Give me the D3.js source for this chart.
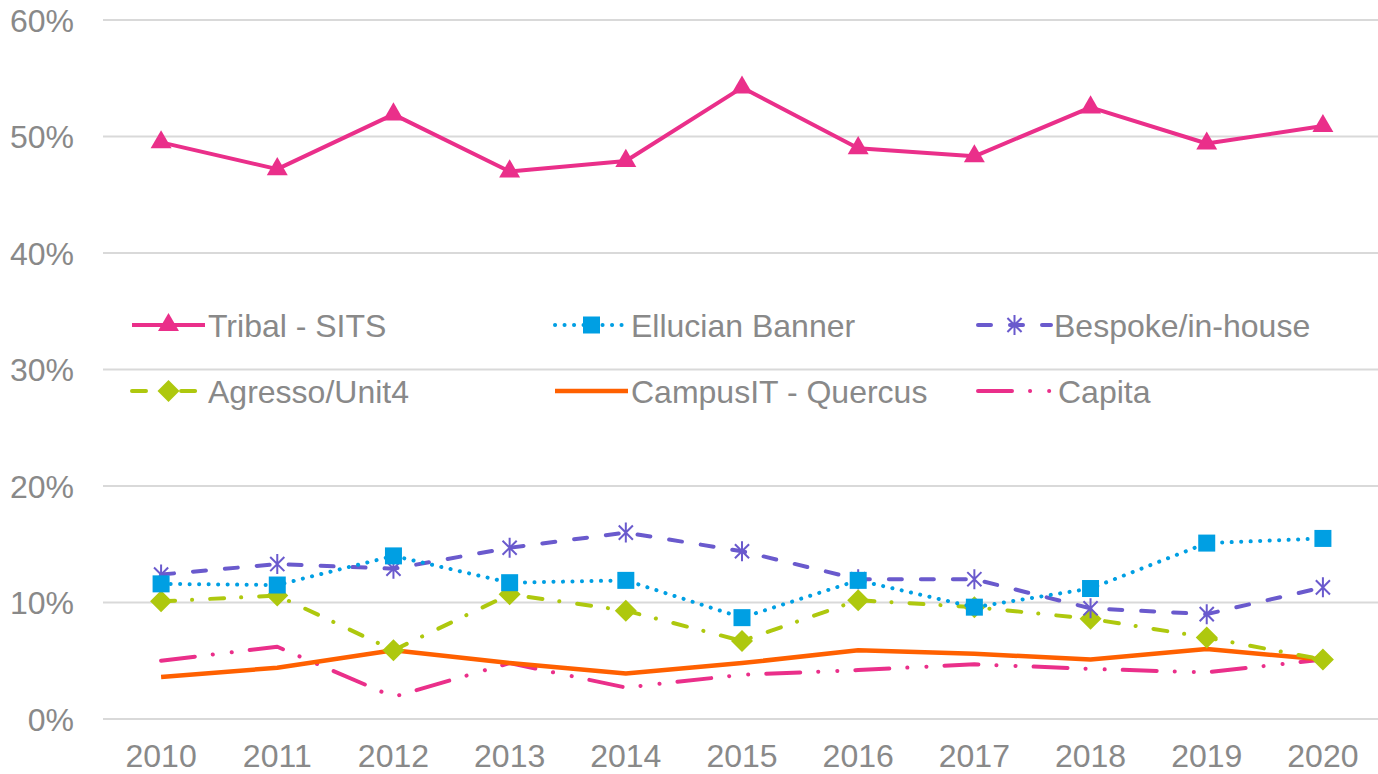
<!DOCTYPE html>
<html><head><meta charset="utf-8">
<script src="https://cdn.jsdelivr.net/npm/d3@7/dist/d3.min.js"></script>
<style>
html,body{margin:0;padding:0;background:#fff;}
svg{display:block;font-family:"Liberation Sans",Arial,sans-serif;}
</style></head>
<body>
<svg id="chart" width="1378" height="774"></svg>
<script>
const years = ["2010","2011","2012","2013","2014","2015","2016","2017","2018","2019","2020"];
const yTicks = [0,10,20,30,40,50,60];
const tribal    = [49.5,47.2,51.9,47.0,47.9,54.2,49.0,48.3,52.5,49.4,50.9];
const ellucian  = [11.6,11.5,14.0,11.7,11.9,8.7,11.9,9.6,11.2,15.1,15.5];
const bespoke   = [12.4,13.3,12.9,14.7,16.0,14.4,12.0,12.0,9.5,9.0,11.3];
const agresso   = [10.1,10.6,5.9,10.7,9.3,6.7,10.2,9.6,8.6,7.0,5.1];
const campusit  = [3.6,4.4,5.9,4.8,3.9,4.8,5.9,5.6,5.1,6.0,5.1];
const capita    = [5.0,6.2,1.9,4.8,2.7,3.8,4.2,4.7,4.3,4.0,5.1];
const seriesNames = ["Tribal - SITS","Ellucian Banner","Bespoke/in-house","Agresso/Unit4","CampusIT - Quercus","Capita"];

(function(){
const series = [
  {name:seriesNames[0], values:tribal,   color:"#EA2F8A", dash:null,                 marker:"triangle", width:4},
  {name:seriesNames[1], values:ellucian, color:"#009FE3", dash:"0.1 9.4",            marker:"square",   width:4},
  {name:seriesNames[2], values:bespoke,  color:"#6A5ACD", dash:"13 19",              marker:"asterisk", width:4},
  {name:seriesNames[3], values:agresso,  color:"#AEC80E", dash:"14 17 0.1 18",       marker:"diamond",  width:4},
  {name:seriesNames[4], values:campusit, color:"#FF6000", dash:null,                 marker:null,       width:4.5},
  {name:seriesNames[5], values:capita,   color:"#EA2F8A", dash:"34 18 0.1 19 0.1 18",marker:null,       width:4}
];

const svg = d3.select("#chart");
const pLeft = 103, pRight = 1381, pTop = 20, pBottom = 719;
const x = d3.scaleBand().domain(years).range([pLeft, pRight]);
const y = d3.scaleLinear().domain([0,60]).range([pBottom, pTop]);
const textColor = "#898989";
const fs = 32;

svg.append("g").selectAll("line").data(yTicks).join("line")
  .attr("x1", pLeft).attr("x2", 1378)
  .attr("y1", d => y(d)).attr("y2", d => y(d))
  .attr("stroke", "#d9d9d9").attr("stroke-width", 2);

svg.append("g").selectAll("text").data(yTicks).join("text")
  .attr("x", 74).attr("y", d => y(d)).attr("dy", "0.36em")
  .attr("text-anchor", "end").attr("font-size", fs).attr("fill", textColor)
  .text(d => d + "%");

svg.append("g").selectAll("text").data(years).join("text")
  .attr("x", d => x(d) + x.bandwidth()/2).attr("y", 755).attr("dy", "0.36em")
  .attr("text-anchor", "middle").attr("font-size", fs).attr("fill", textColor)
  .text(d => d);

const cx = (d,i) => x(years[i]) + x.bandwidth()/2;
const line = d3.line().x((d,i) => cx(d,i)).y(d => y(d));

function drawMarker(g, type, px, py, color) {
  if (type === "triangle") {
    g.append("path").attr("d", d3.symbol().type(d3.symbolTriangle).size(190)())
      .attr("transform", `translate(${px},${py})`).attr("fill", color);
  } else if (type === "square") {
    g.append("rect").attr("x", px-8.5).attr("y", py-8.5).attr("width", 17).attr("height", 17)
      .attr("fill", color);
  } else if (type === "diamond") {
    g.append("path").attr("d", `M${px},${py-11}L${px+11},${py}L${px},${py+11}L${px-11},${py}Z`)
      .attr("fill", color);
  } else if (type === "asterisk") {
    const r = 10, a = r*0.7071;
    g.append("path")
      .attr("d", `M${px},${py-r}L${px},${py+r}M${px-a},${py-a}L${px+a},${py+a}M${px-a},${py+a}L${px+a},${py-a}`)
      .attr("stroke", color).attr("stroke-width", 2).attr("fill", "none");
  }
}

const order = [5,4,3,2,1,0];
order.forEach(k => {
  const s = series[k];
  const g = svg.append("g");
  g.append("path").datum(s.values).attr("d", line)
    .attr("fill", "none").attr("stroke", s.color).attr("stroke-width", s.width)
    .attr("stroke-linecap", s.dash ? "round" : "butt").attr("stroke-linejoin", "round")
    .attr("stroke-dasharray", s.dash);
  if (s.marker) s.values.forEach((v,i) => drawMarker(g, s.marker, cx(v,i), y(v), s.color));
});

const legCols = [132, 555, 978];
const legRows = [325, 391];
series.forEach((s, i) => {
  const lx = legCols[i % 3], ly = legRows[Math.floor(i / 3)];
  const g = svg.append("g");
  g.append("line").attr("x1", lx).attr("x2", lx + 73).attr("y1", ly).attr("y2", ly)
    .attr("stroke", s.color).attr("stroke-width", s.width)
    .attr("stroke-linecap", s.dash ? "round" : "butt")
    .attr("stroke-dasharray", s.dash);
  if (s.marker) drawMarker(g, s.marker, lx + 36.5, ly, s.color);
  g.append("text").attr("x", i === 5 ? lx + 80 : lx + 76).attr("y", ly).attr("dy", "0.36em")
    .attr("font-size", fs).attr("fill", textColor).text(s.name);
});
})();
</script>
</body></html>
